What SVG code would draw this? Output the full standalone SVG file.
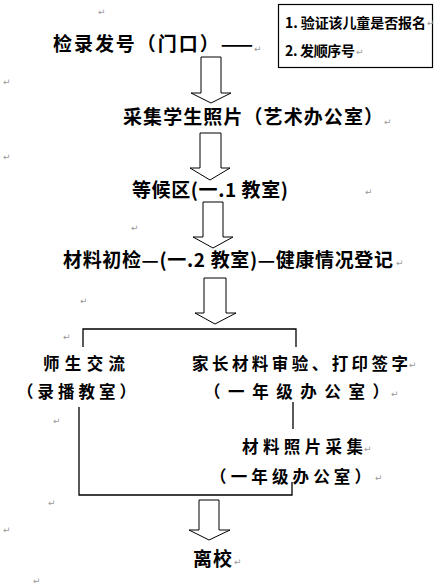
<svg xmlns="http://www.w3.org/2000/svg" width="445" height="588" viewBox="0 0 445 588">
<style>
.t{font-family:"Noto Sans CJK SC","Liberation Serif",serif;font-size:19px;font-weight:bold;fill:#000}
.s{font-family:"Noto Sans CJK SC","Liberation Serif",serif;font-size:16.5px;font-weight:bold;fill:#000}
.b{font-family:"Noto Sans CJK SC","Liberation Serif",serif;font-size:14px;font-weight:bold;fill:#000}
.p{font-family:"DejaVu Sans",sans-serif;font-size:9px;fill:#999}
.arr{fill:#fff;stroke:#000;stroke-width:1}
.ln{fill:none;stroke:#000;stroke-width:1.3}
</style>
<rect width="445" height="588" fill="#fff"/>
<g id="note">
<rect x="278.5" y="4.5" width="154" height="63" fill="#fff" stroke="#000" stroke-width="1.2"/>
<text class="b" x="285" y="28" textLength="141" lengthAdjust="spacing">1. 验证该儿童是否报名</text>
<text class="b" x="285" y="56" textLength="70" lengthAdjust="spacing">2. 发顺序号</text>
</g>
<g id="n1"><text class="t" x="53" y="51" textLength="200" lengthAdjust="spacing">检录发号（门口）——</text></g>
<g id="n2"><text class="t" x="123" y="124" textLength="260" lengthAdjust="spacing">采集学生照片（艺术办公室）</text></g>
<g id="n3"><text class="t" x="132" y="197" textLength="156" lengthAdjust="spacing">等候区(一.1 教室)</text></g>
<g id="n4"><text class="t" x="63" y="267" textLength="330" lengthAdjust="spacing">材料初检—(一.2 教室)—健康情况登记</text></g>
<g id="n5"><text class="s" x="43" y="370" textLength="82" lengthAdjust="spacing">师生交流</text><text class="s" x="17" y="398" textLength="119" lengthAdjust="spacing">（录播教室）</text></g>
<g id="n6"><text class="s" x="192" y="370" textLength="216" lengthAdjust="spacing">家长材料审验、打印签字</text><text class="s" x="204" y="398" textLength="185" lengthAdjust="spacing">（一年级办公室）</text></g>
<g id="n7"><text class="s" x="242" y="453" textLength="121" lengthAdjust="spacing">材料照片采集</text><text class="s" x="210" y="483" textLength="161" lengthAdjust="spacing">（一年级办公室）</text></g>
<g id="n8"><text class="t" x="193" y="566" textLength="39" lengthAdjust="spacing">离校</text></g>
<g id="connectors">
<polygon class="arr" points="201,57 221,57 221,93 231,93 211,103 191,93 201,93"/>
<polygon class="arr" points="200,133 221,133 221,168 230,168 210,180 190,168 200,168"/>
<polygon class="arr" points="203,202 223,202 223,237 233,237 213,248 193,237 203,237"/>
<polygon class="arr" points="204,278 226,278 226,313 236,313 215,324 195,313 204,313"/>
<polyline class="ln" points="83,347 83,329 296,329 296,347"/>
<polyline class="ln" points="79,407 79,495 292,495 292,482"/>
<line class="ln" x1="293" y1="402" x2="293" y2="429"/>
<polygon class="arr" points="199,500 219,500 219,530 230,530 209,540 189,530 199,530"/>
</g>
<g id="marks">
<text class="p" x="98" y="15">↵</text>
<text class="p" x="254" y="52">↵</text>
<text class="p" x="3" y="85">↵</text>
<text class="p" x="384" y="125">↵</text>
<text class="p" x="3" y="160">↵</text>
<text class="p" x="365" y="195">↵</text>
<text class="p" x="131" y="231">↵</text>
<text class="p" x="396" y="266">↵</text>
<text class="p" x="80" y="304">↵</text>
<text class="p" x="63" y="340">↵</text>
<text class="p" x="409" y="368">↵</text>
<text class="p" x="391" y="397">↵</text>
<text class="p" x="53" y="424">↵</text>
<text class="p" x="364" y="452">↵</text>
<text class="p" x="375" y="481">↵</text>
<text class="p" x="48" y="506">↵</text>
<text class="p" x="3" y="533">↵</text>
<text class="p" x="234" y="565">↵</text>
<text class="p" x="33" y="584">↵</text>
<text class="p" x="427" y="26">↵</text>
<text class="p" x="356" y="55">↵</text>
</g>
</svg>
